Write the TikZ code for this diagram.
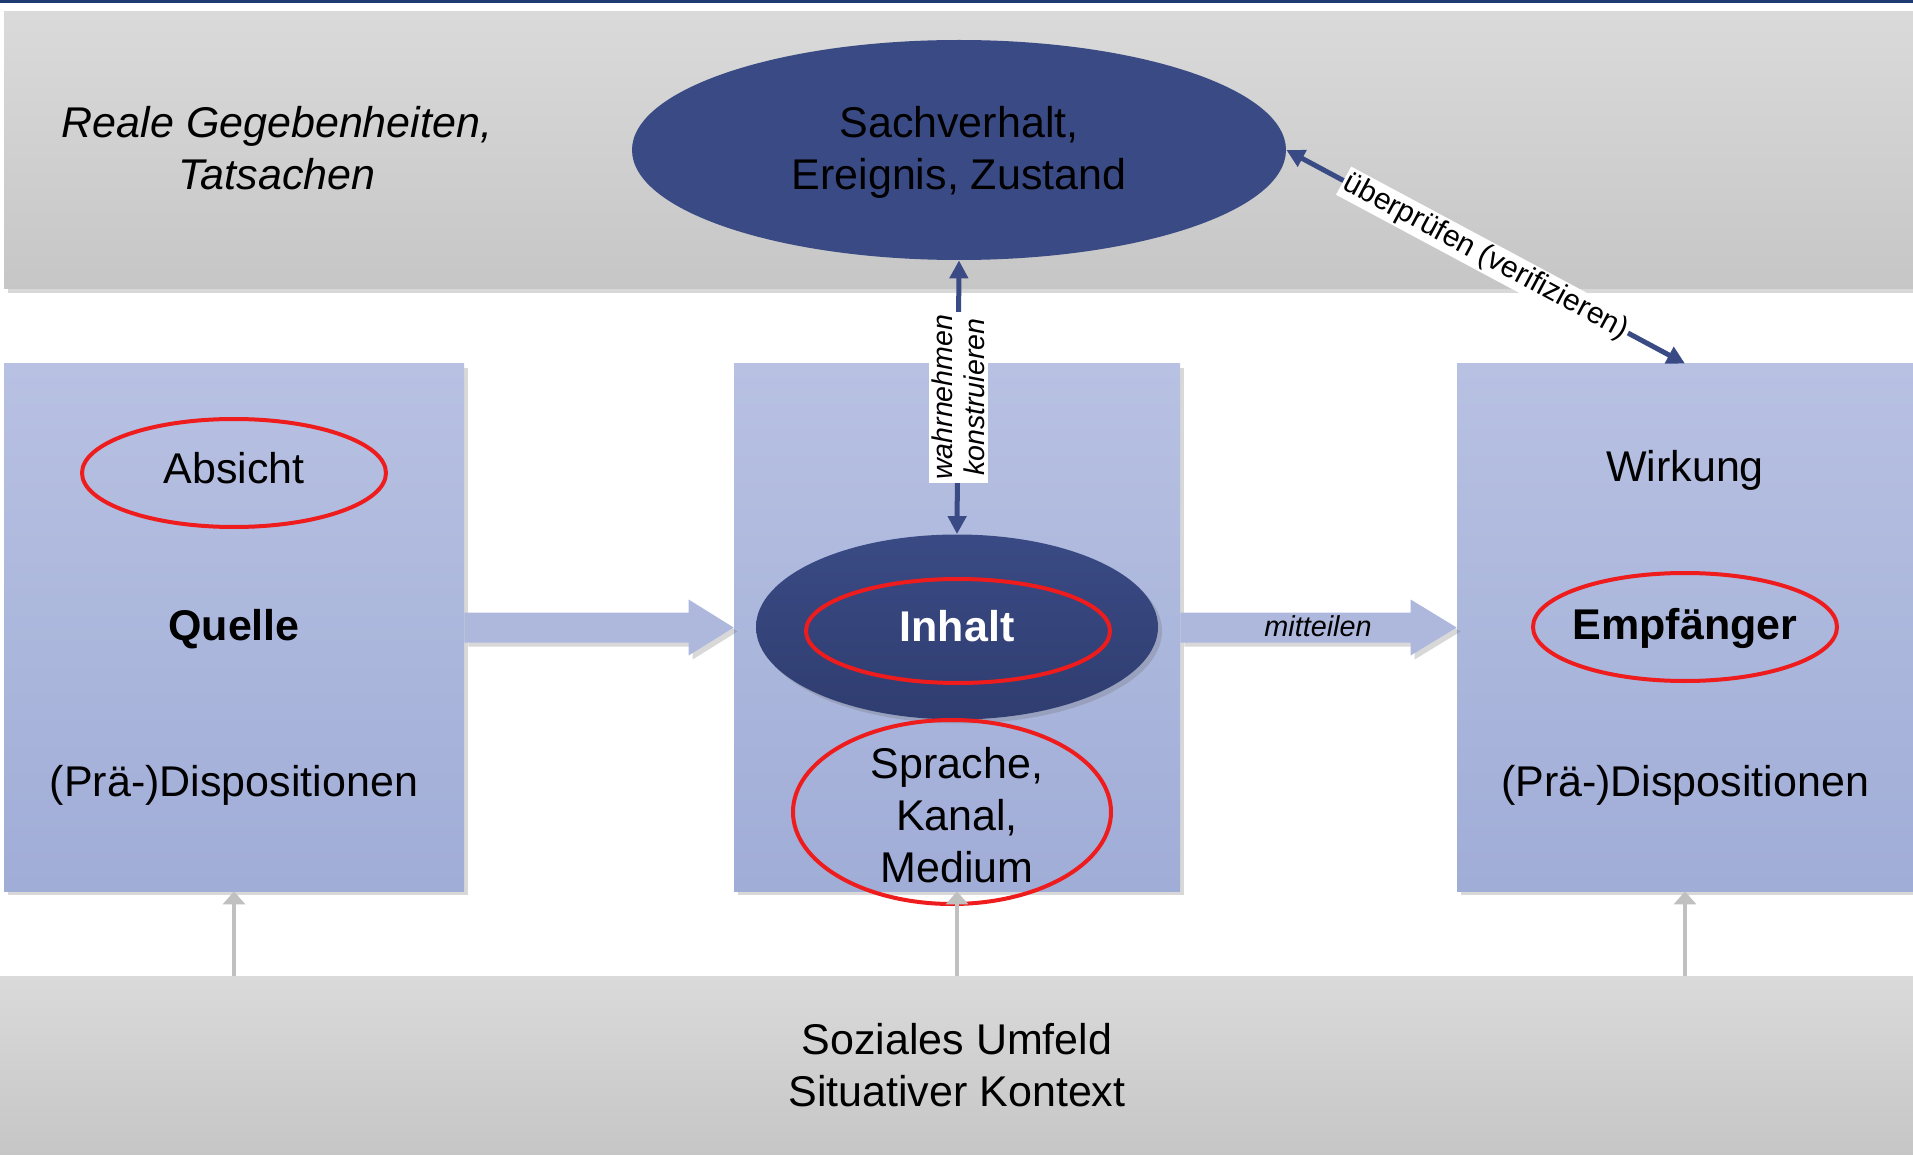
\documentclass[tikz,border=0pt]{standalone}
\usepackage{fontspec}
\setmainfont{Liberation Sans}
\usetikzlibrary{arrows.meta,shadows,calc,shapes.geometric}
\definecolor{navy}{HTML}{3A4A84}
\definecolor{navydark}{HTML}{2F3D70}
\definecolor{topline}{HTML}{1F3B73}
\definecolor{boxtop}{HTML}{B8C1E2}
\definecolor{boxbot}{HTML}{A0ADD7}
\definecolor{graytop}{HTML}{DADADA}
\definecolor{graybot}{HTML}{C6C6C6}
\definecolor{blockblue}{HTML}{AEB8DD}
\definecolor{redring}{HTML}{EE1C1C}
\definecolor{thingray}{HTML}{C0C0C0}
\begin{document}
\begin{tikzpicture}[x=0.5pt,y=-0.5pt,
  big/.style={font=\fontsize{21.5}{26}\selectfont, align=center, text=black},
  softshadow/.style={drop shadow={shadow xshift=2pt,shadow yshift=-2pt,opacity=0.25,fill=black!60}},
  band/.style={rectangle, inner sep=0pt, top color=graytop, bottom color=graybot, softshadow},
  bluebox/.style={rectangle, inner sep=0pt, top color=boxtop, bottom color=boxbot, softshadow, minimum height=263.5pt},
  ring/.style={ellipse, draw=redring, line width=2pt, inner sep=0pt},
  navyarrow/.style={draw=navy, line width=2.5pt, {Triangle[length=9pt,width=9pt]}-{Triangle[length=9pt,width=9pt]}},
  grayarrow/.style={draw=thingray, line width=2pt, -{Triangle[length=6.5pt,width=11pt]}},
  blockarrow/.style={fill=blockblue, softshadow},
  smalllabel/.style={fill=white, inner sep=1.5pt, align=center}
]
\useasboundingbox (0,0) rectangle (1913,1155);
\fill[white] (0,0) rectangle (1913,1155);
% top line
\fill[topline] (0,0) rectangle (1913,3);
% bands
\node[band, minimum width=954.5pt, minimum height=138.5pt] (top) at (958.5,150.5) {};
\node[band, minimum width=956.5pt, minimum height=89.5pt] (bottom) at (956.5,1065.5) {};
% boxes
\node[bluebox, minimum width=230pt] (lbox) at (234,627.5) {};
\node[bluebox, minimum width=223pt] (mbox) at (957,627.5) {};
\node[bluebox, minimum width=228pt] (rbox) at (1685,627.5) {};
% block arrows
\fill[blockarrow] ($(lbox.east)+(0,-15)$) -- ($(mbox.west)+(-45,-15)$) -- ($(mbox.west)+(-45,-28)$) -- (mbox.west) -- ($(mbox.west)+(-45,28)$) -- ($(mbox.west)+(-45,15)$) -- ($(lbox.east)+(0,15)$) -- cycle;
\fill[blockarrow] ($(mbox.east)+(0,-15)$) -- ($(rbox.west)+(-46,-15)$) -- ($(rbox.west)+(-46,-28)$) -- (rbox.west) -- ($(rbox.west)+(-46,28)$) -- ($(rbox.west)+(-46,15)$) -- ($(mbox.east)+(0,15)$) -- cycle;
\node[font=\itshape\fontsize{14.4}{16}\selectfont] (mitteilen) at (1318,626) {mitteilen};
% top content
\node[big, font=\itshape\fontsize{21.5}{26}\selectfont] (real) at (277,148) {Reale Gegebenheiten,\\Tatsachen};
\node[ellipse, fill=navy, minimum width=327pt, minimum height=110pt, inner sep=0pt] (sach) at (959,150) {};
\node[big] (sachtext) at (959,152) {Sachverhalt,\\Ereignis, Zustand};
% left box
\node[ring, minimum width=152pt, minimum height=54pt] (absicht) at (234,473) {};
\node[big] (absichttext) at (234,468) {Absicht};
\node[big, font=\bfseries\fontsize{21.5}{26}\selectfont] (quelle) at (234,629) {Quelle};
\node[big] (ldisp) at (234,785) {(Prä-)Dispositionen};
% middle box
\node[ellipse, top color=navy, bottom color=navydark, minimum width=201pt, minimum height=92.5pt, inner sep=0pt, softshadow] (inh) at (957,627) {};
\node[ring, minimum width=152pt, minimum height=52pt] (inhalt) at (958,631) {};
\node[text=white, font=\bfseries\fontsize{21.5}{26}\selectfont] (inhalttext) at (957,626) {Inhalt};
\node[ring, minimum width=159pt, minimum height=92pt] (sprache) at (952,812) {};
\node[big] (sprachetext) at (957,815) {Sprache,\\Kanal,\\Medium};
% right box
\node[big] (wirkung) at (1685,470) {Wirkung};
\node[ring, minimum width=152pt, minimum height=54pt] (empf) at (1685,627) {};
\node[big, font=\bfseries\fontsize{21.5}{26}\selectfont] (empftext) at (1685,628) {Empfänger};
\node[big] (rdisp) at (1685,785) {(Prä-)Dispositionen};
% bottom text
\node[big] (sozial) at (957,1065) {Soziales Umfeld\\Situativer Kontext};
% navy arrows
\draw[navyarrow] (sach.south) -- (inh.north)
  node[pos=0.5, smalllabel, rotate=90, font=\itshape\fontsize{14.3}{16}\selectfont] (wk) {wahrnehmen\\konstruieren};
\draw[navyarrow] (sach.east) -- (rbox.north)
  node[pos=0.5, sloped, fill=white, inner sep=1pt, font=\fontsize{15}{17}\selectfont] (ueb) {überprüfen (verifizieren)};
% gray arrows
\draw[grayarrow] (lbox.south |- bottom.north) -- (lbox.south);
\draw[grayarrow] (mbox.south |- bottom.north) -- (mbox.south);
\draw[grayarrow] (rbox.south |- bottom.north) -- (rbox.south);
\end{tikzpicture}
\end{document}
